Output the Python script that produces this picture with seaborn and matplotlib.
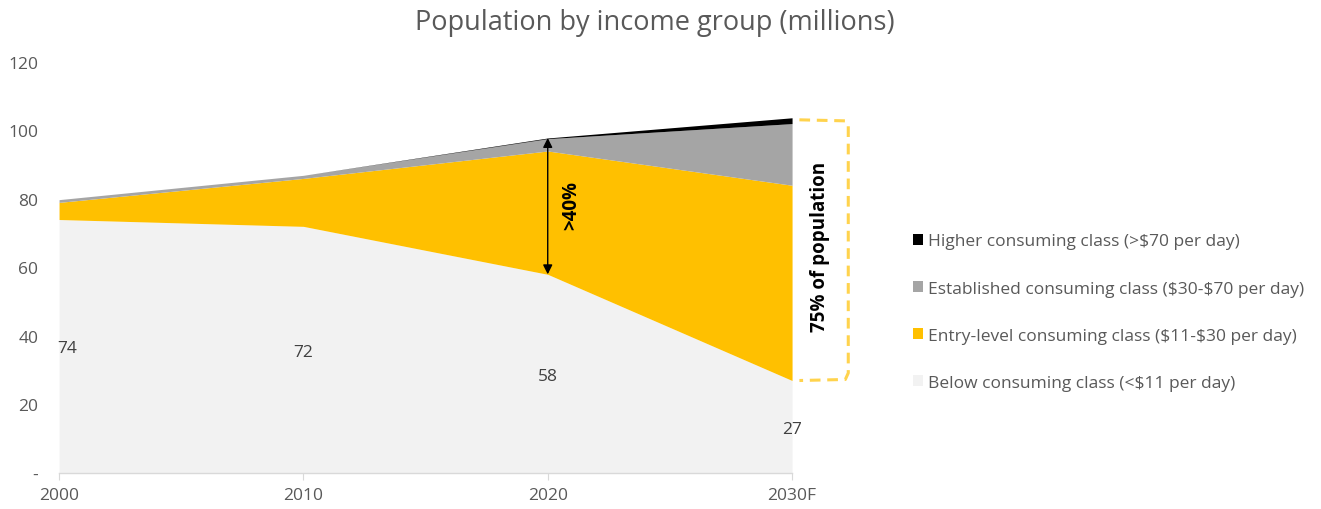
import matplotlib
matplotlib.use("Agg")
import matplotlib.pyplot as plt
import seaborn as sns
import pandas as pd
from matplotlib.lines import Line2D

# Population by income group, millions
years = [2000, 2010, 2020, 2030]
year_labels = ["2000", "2010", "2020", "2030F"]
below = [74, 72, 58, 27]
entry = [5, 14, 36, 57]
established = [0.8, 0.9, 3.6, 18]
higher = [0, 0, 0.2, 1.7]

series_names = [
    "Below consuming class (<\\$11 per day)",
    "Entry-level consuming class (\\$11-\\$30 per day)",
    "Established consuming class (\\$30-\\$70 per day)",
    "Higher consuming class (>\\$70 per day)",
]
colors = ["#F2F2F2", "#FFC000", "#A5A5A5", "#000000"]

df = pd.DataFrame({"year": years, "below": below, "entry": entry,
                   "established": established, "higher": higher})
value_cols = ["below", "entry", "established", "higher"]

sns.set_theme(style="white")
plt.rcParams["font.family"] = ["Open Sans", "DejaVu Sans"]
text_grey = "#595959"

fig = plt.figure(figsize=(13.21, 5.10), dpi=100)
ax = fig.add_axes([0.0447, 0.0706, 0.5549, 0.806])

ax.stackplot(df["year"], [df[c] for c in value_cols], colors=colors,
             labels=series_names, linewidth=0)

ax.set_xlim(2000, 2030)
ax.set_ylim(0, 120)
ax.set_xticks(years)
ax.set_xticklabels(year_labels)
ax.set_yticks(range(0, 121, 20))
ax.set_yticklabels(["-"] + [str(v) for v in range(20, 121, 20)])
ax.tick_params(axis="y", length=0, pad=15, labelsize=12.5, labelcolor=text_grey)
ax.tick_params(axis="x", length=5, width=0.8, color="#D9D9D9", pad=5,
               labelsize=12.5, labelcolor=text_grey, direction="out", bottom=True)
for side in ["left", "right", "top"]:
    ax.spines[side].set_visible(False)
ax.spines["bottom"].set_color("#D9D9D9")
ax.spines["bottom"].set_linewidth(1)
ax.grid(False)
ax.set_xlabel("")
ax.set_ylabel("")

# Value labels for the lowest band, centred in the band
for x, v in zip(years, below):
    xx = x + 0.35 if x == years[0] else x
    ax.text(xx, v / 2, str(v), ha="center", va="center_baseline",
            fontsize=12.5, color="#404040")

# Double arrow spanning the entry-level band in 2020
i20 = years.index(2020)
lo = below[i20]
hi = below[i20] + entry[i20] + established[i20] + higher[i20]
ax.annotate("", xy=(2020, hi), xytext=(2020, lo),
            arrowprops=dict(arrowstyle="<|-|>", color="black", lw=1,
                            mutation_scale=14, shrinkA=0, shrinkB=0))
ax.text(2020.95, 78.5, ">40%", rotation=90, ha="center", va="center",
        fontsize=13.5, fontweight="bold", color="black")

# Dashed bracket around the consuming classes in 2030
i30 = years.index(2030)
b_lo = below[i30]
b_hi = below[i30] + entry[i30] + established[i30] + higher[i30]
bx0, bx1 = 2030.3, 2032.3
r = 2.2
bracket_x = [bx0, bx1 - 0.12, bx1, bx1, bx1 - 0.12, bx0]
bracket_y = [b_hi - 0.6, b_hi - 0.9, b_hi - r, b_lo + r, b_lo + 0.3, b_lo]
ax.add_line(Line2D(bracket_x, bracket_y, color="#FFD34D", lw=2.2,
                   linestyle=(0, (3.5, 2.2)), clip_on=False,
                   solid_joinstyle="round"))
ax.text(2031.15, (b_lo + b_hi) / 2 + 0.8, "75% of population", rotation=90,
        ha="center", va="center", fontsize=13.5, fontweight="bold",
        color="black")

# Legend, top class first
handles, labels = ax.get_legend_handles_labels()
fig.legend(handles[::-1], labels[::-1], loc="center left",
           bbox_to_anchor=(0.679, 0.386), frameon=False, fontsize=12.5,
           labelcolor=text_grey, handlelength=0.6, handleheight=0.6,
           handletextpad=0.3, labelspacing=1.8)

fig.text(0.496, 0.955, "Population by income group (millions)", ha="center",
         va="center", fontsize=19.5, color=text_grey)

fig.savefig("out.png", dpi=100)
